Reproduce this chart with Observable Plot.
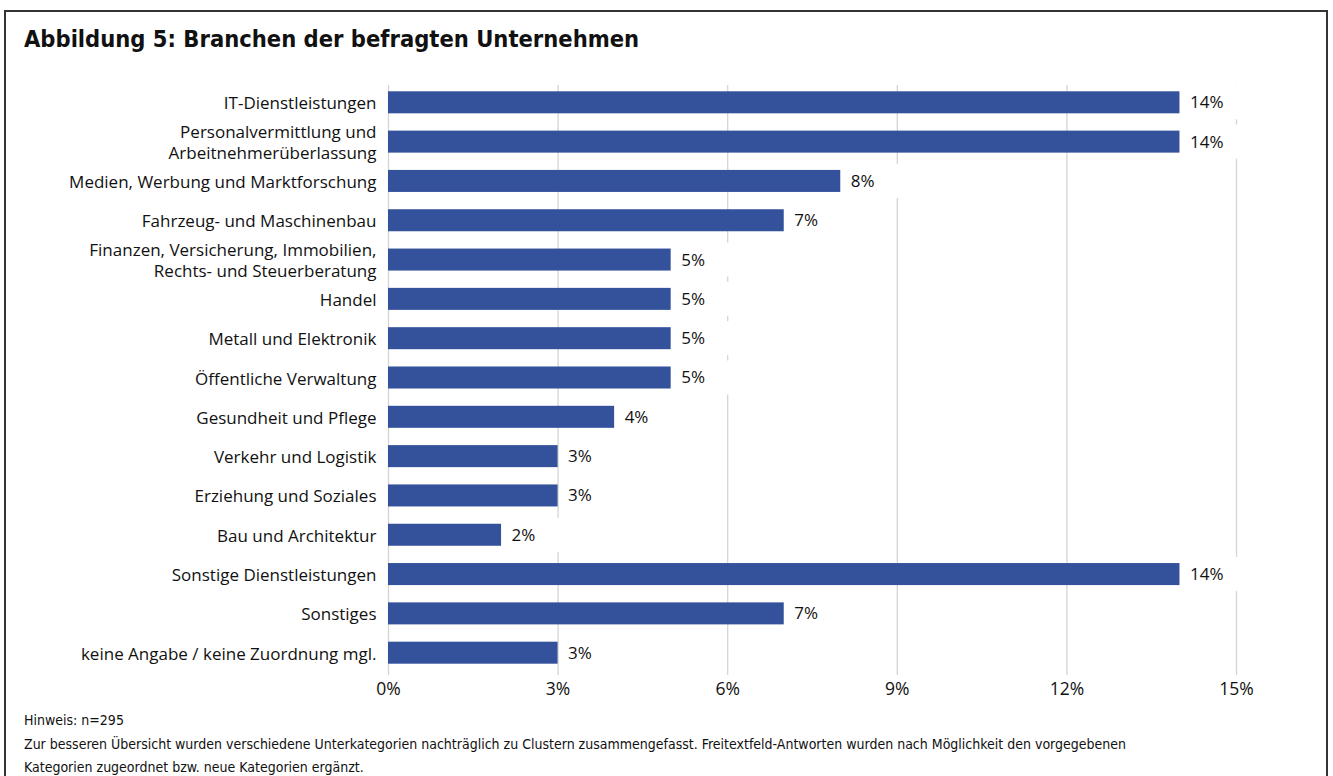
<!DOCTYPE html>
<html>
<head>
<meta charset="utf-8">
<script src="https://cdn.jsdelivr.net/npm/d3@7"></script>
<script src="https://cdn.jsdelivr.net/npm/@observablehq/plot@0.6"></script>
<style>
  html, body { margin: 0; padding: 0; background: #fff; }
  body { width: 1333px; height: 776px; position: relative; overflow: hidden; }
  #frame { position: absolute; left: 4px; top: 10px; width: 1320px; height: 780px;
           border-left: 2px solid #333; border-top: 2px solid #333; border-right: 2px solid #333; }
  #title { position: absolute; left: 24px; top: 25px; font-family: "DejaVu Sans Condensed", "DejaVu Sans", sans-serif;
           font-weight: bold; font-stretch: condensed; font-size: 23.5px; color: #111; white-space: nowrap; }
  #chart { position: absolute; left: 0; top: 60px; }
  #note { position: absolute; left: 24px; top: 709px; font-family: "DejaVu Sans Condensed", "DejaVu Sans", sans-serif;
          font-stretch: condensed; font-size: 14px; line-height: 23.5px; color: #111; white-space: nowrap; }
</style>
</head>
<body>
<div id="frame"></div>
<div id="title">Abbildung 5: Branchen der befragten Unternehmen</div>
<div id="chart"></div>
<div id="note">Hinweis: n=295<br>Zur besseren Übersicht wurden verschiedene Unterkategorien nachträglich zu Clustern zusammengefasst. Freitextfeld-Antworten wurden nach Möglichkeit den vorgegebenen<br>Kategorien zugeordnet bzw. neue Kategorien ergänzt.</div>
<script>
const categories = [
  "IT-Dienstleistungen",
  "Personalvermittlung und\nArbeitnehmerüberlassung",
  "Medien, Werbung und Marktforschung",
  "Fahrzeug- und Maschinenbau",
  "Finanzen, Versicherung, Immobilien,\nRechts- und Steuerberatung",
  "Handel",
  "Metall und Elektronik",
  "Öffentliche Verwaltung",
  "Gesundheit und Pflege",
  "Verkehr und Logistik",
  "Erziehung und Soziales",
  "Bau und Architektur",
  "Sonstige Dienstleistungen",
  "Sonstiges",
  "keine Angabe / keine Zuordnung mgl."
];
const values = [14, 14, 8, 7, 5, 5, 5, 5, 4, 3, 3, 2, 14, 7, 3];
const xTicks = [0, 3, 6, 9, 12, 15];

const data = categories.map((c, i) => ({category: c, value: values[i]}));
const font = "'Open Sans', 'Noto Sans', sans-serif";

const chart = Plot.plot({
  width: 1333,
  height: 650,
  marginLeft: 388,
  marginRight: 97,
  marginTop: 14,
  marginBottom: 29,
  style: {fontFamily: font, fontSize: "17px", color: "#111", background: "transparent"},
  x: {domain: [0, 15], ticks: xTicks, tickFormat: d => d + "%", label: null},
  y: {domain: categories, padding: 0.44, round: false, label: null},
  marks: [
    Plot.ruleX(xTicks, {stroke: "#d4d4d4", strokeWidth: 1.3, insetTop: 11, insetBottom: 6}),
    Plot.barX(data, {x1: "value", x2: d => d.value + 1.05, y: "category", fill: "white", insetTop: -6, insetBottom: -6, insetLeft: 2}),
    Plot.barX(data, {x: "value", y: "category", fill: "#34519c"}),
    Plot.text(data, {x: "value", y: "category", text: d => d.value + "%", textAnchor: "start", dx: 10, fill: "#111", fontSize: 17}),
    Plot.axisY({tickSize: 0, tickPadding: 12, lineHeight: 1.2, fontSize: 17, fill: "#111", label: null}),
    Plot.axisX({ticks: xTicks, tickFormat: d => d + "%", tickSize: 0, tickPadding: 1, fontSize: 17.5, fill: "#111", label: null})
  ]
});
document.getElementById("chart").appendChild(chart);
</script>
</body>
</html>
